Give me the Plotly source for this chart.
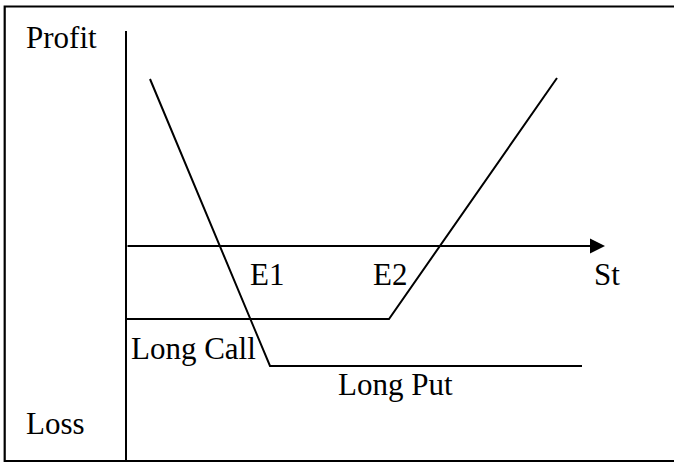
import plotly.graph_objects as go

# ---- data (payoff diagram, St on x, profit on y; origin at axes crossing) ----
long_call_st = [0, 263, 431]
long_call_profit = [-73, -73, 168]
long_put_st = [24, 144, 456]
long_put_profit = [167, -120, -120]
strike_labels = ["E1", "E2"]
strike_values = [144, 263]
st_axis_end = 479
profit_axis_top = 215
profit_axis_bottom = -216

W, H = 674, 464
X0, Y0 = 126, 246  # pixel position of origin

FONT = dict(family="Liberation Serif, Times New Roman, serif", size=31, color="black")
LINE = dict(color="black", width=2)

fig = go.Figure()

# vertical (profit) axis
fig.add_trace(go.Scatter(x=[0, 0], y=[profit_axis_top, profit_axis_bottom], mode="lines",
                         line=LINE, hoverinfo="skip", showlegend=False))
# payoff lines
fig.add_trace(go.Scatter(x=long_call_st, y=long_call_profit, mode="lines",
                         line=LINE, name="Long Call", showlegend=False))
fig.add_trace(go.Scatter(x=long_put_st, y=long_put_profit, mode="lines",
                         line=LINE, name="Long Put", showlegend=False))

annotations = []
# horizontal (St) axis with arrow
annotations.append(dict(x=st_axis_end, y=0, ax=0, ay=0, xref="x", yref="y", axref="x", ayref="y",
                        text="", showarrow=True, arrowhead=2, arrowsize=1.5, arrowwidth=2,
                        arrowcolor="black", standoff=0, startstandoff=0))

def label(text, x, y, xanchor="left"):
    annotations.append(dict(x=x, y=y, xref="x", yref="y", text=text, showarrow=False,
                            xanchor=xanchor, yanchor="bottom", font=FONT))

label("Profit", -102, 188.7)
label("Loss", -102, -197.3)
for t, v, dx in zip(strike_labels, strike_values, [-3.5, 1]):
    label(t, v + dx, -48.3, xanchor="center")
label("St", 466, -48.3)
label("Long Call", 3, -122.3)
label("Long Put", 210, -158.3)

fig.update_layout(
    width=W, height=H, autosize=False,
    margin=dict(l=0, r=0, t=0, b=0),
    paper_bgcolor="white", plot_bgcolor="white",
    xaxis=dict(range=[-X0, W - X0], visible=False, fixedrange=True),
    yaxis=dict(range=[Y0 - H, Y0], visible=False, fixedrange=True),
    annotations=annotations,
    shapes=[dict(type="rect", xref="paper", yref="paper",
                 x0=4.7 / W, x1=1.1, y0=1 - 461 / H, y1=1 - 6.5 / H,
                 line=dict(color="black", width=2.2), fillcolor="rgba(0,0,0,0)")],
)

fig.write_html("out.html", config={"displayModeBar": False},
               post_script="document.body.style.margin='0';document.body.style.overflow='hidden';")
